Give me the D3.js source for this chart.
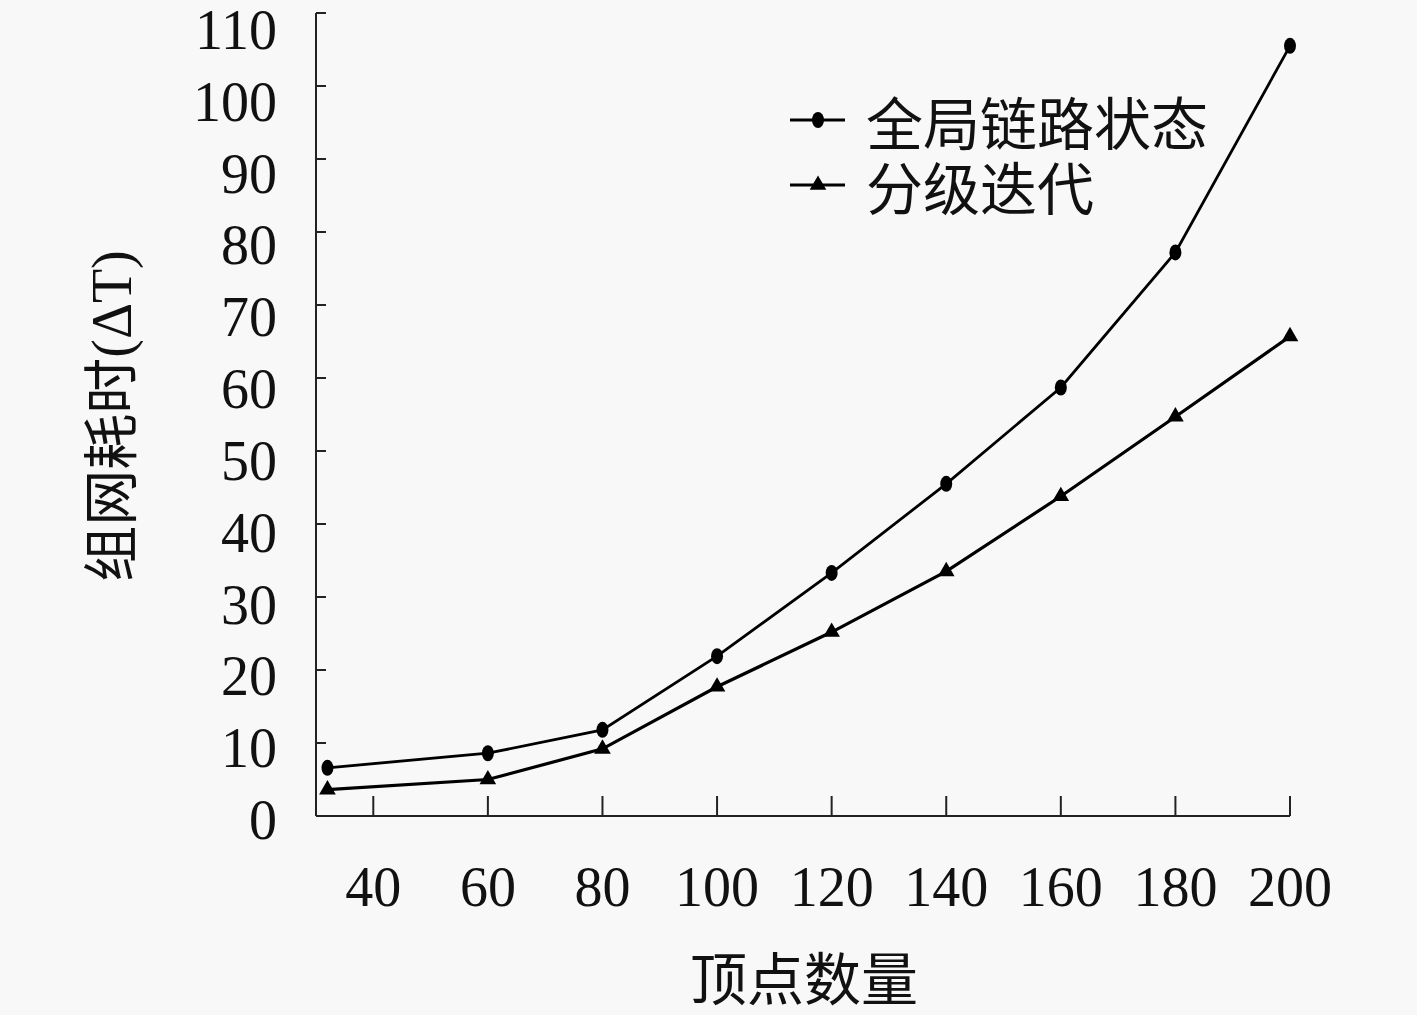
<!DOCTYPE html>
<html><head><meta charset="utf-8">
<script src="https://cdn.jsdelivr.net/npm/d3@7"></script>
<style>
html,body{margin:0;padding:0;background:#f8f8f8;}
svg{display:block;}
</style></head>
<body>
<script>
const xValues = [32, 60, 80, 100, 120, 140, 160, 180, 200];
const globalLinkState = [6.6, 8.6, 11.8, 21.9, 33.3, 45.5, 58.7, 77.2, 105.5];
const hierIter = [3.6, 5.0, 9.2, 17.7, 25.2, 33.5, 43.8, 54.7, 65.7];
const xTicks = [40, 60, 80, 100, 120, 140, 160, 180, 200];
const yTicks = [0, 10, 20, 30, 40, 50, 60, 70, 80, 90, 100, 110];
const seriesNames = ["全局链路状态", "分级迭代"];
const xTitle = "顶点数量";
const yTitle = "组网耗时";
const yUnit = "(ΔT)";

const W = 1417, H = 1015;
const numFont = "'Liberation Serif','DejaVu Serif',serif";
const cjkFont = "'Noto Sans CJK SC','Noto Sans CJK JP',sans-serif";

const svg = d3.select("body").append("svg").attr("width", W).attr("height", H);
svg.append("rect").attr("width", W).attr("height", H).attr("fill", "#f8f8f8");

const x = d3.scaleLinear().domain([30, 200]).range([316, 1290]);
const y = d3.scaleLinear().domain([0, 110]).range([816, 13]);
const yLab = d3.scaleLinear().domain([0, 110]).range([820, 30]);

const axisColor = "#222";
// y axis
svg.append("line").attr("x1", x(30)).attr("x2", x(30)).attr("y1", y(110)).attr("y2", y(0))
  .attr("stroke", axisColor).attr("stroke-width", 2);
svg.selectAll(".ytick").data(yTicks).enter().append("line")
  .attr("x1", x(30)).attr("x2", x(30) + 10).attr("y1", d => y(d)).attr("y2", d => y(d))
  .attr("stroke", axisColor).attr("stroke-width", 2);
svg.selectAll(".ylab").data(yTicks).enter().append("text")
  .attr("x", 277).attr("y", d => yLab(d)).attr("text-anchor", "end")
  .attr("dominant-baseline", "central")
  .attr("font-family", numFont).attr("font-size", 56).attr("fill", "#111")
  .text(d => d);
// x axis
svg.append("line").attr("x1", x(30)).attr("x2", x(200)).attr("y1", y(0)).attr("y2", y(0))
  .attr("stroke", axisColor).attr("stroke-width", 2);
svg.selectAll(".xtick").data(xTicks).enter().append("line")
  .attr("x1", d => x(d)).attr("x2", d => x(d)).attr("y1", y(0)).attr("y2", y(0) - 20)
  .attr("stroke", axisColor).attr("stroke-width", 2);
svg.selectAll(".xlab").data(xTicks).enter().append("text")
  .attr("x", d => x(d)).attr("y", 906).attr("text-anchor", "middle")
  .attr("font-family", numFont).attr("font-size", 56).attr("fill", "#111")
  .text(d => d);

// titles
svg.append("text").attr("x", 804).attr("y", 1000).attr("text-anchor", "middle")
  .attr("font-family", cjkFont).attr("font-size", 57).attr("fill", "#111").text(xTitle);
const yt = svg.append("text").attr("transform", "translate(131,416) rotate(-90)")
  .attr("text-anchor", "middle").attr("font-size", 56).attr("fill", "#111");
yt.append("tspan").attr("font-family", cjkFont).text(yTitle);
yt.append("tspan").attr("font-family", numFont).text(yUnit);

// lines
const line = d3.line().x(d => x(d[0])).y(d => y(d[1]));
const s1 = xValues.map((v, i) => [v, globalLinkState[i]]);
const s2 = xValues.map((v, i) => [v, hierIter[i]]);
svg.append("path").attr("d", line(s1)).attr("fill", "none").attr("stroke", "#000").attr("stroke-width", 2.8);
svg.append("path").attr("d", line(s2)).attr("fill", "none").attr("stroke", "#000").attr("stroke-width", 3.2);

const tri = d3.symbol().type(d3.symbolTriangle).size(120);
function drawCircle(g, cx, cy) {
  g.append("ellipse").attr("cx", cx).attr("cy", cy).attr("rx", 6).attr("ry", 8).attr("fill", "#000");
}
function drawTri(g, cx, cy) {
  g.append("path").attr("d", tri()).attr("transform", `translate(${cx},${cy})`).attr("fill", "#000");
}
s1.forEach(d => drawCircle(svg, x(d[0]), y(d[1])));
s2.forEach(d => drawTri(svg, x(d[0]), y(d[1])));

// legend
const legY = [120, 185];
[0, 1].forEach(i => {
  svg.append("line").attr("x1", 790).attr("x2", 845).attr("y1", legY[i]).attr("y2", legY[i])
    .attr("stroke", "#000").attr("stroke-width", 3);
  if (i === 0) drawCircle(svg, 818, legY[i]); else drawTri(svg, 818, legY[i]);
  svg.append("text").attr("x", 866).attr("y", legY[i]).attr("dominant-baseline", "central")
    .attr("font-family", cjkFont).attr("font-size", 57).attr("fill", "#111").text(seriesNames[i]);
});
</script>
</body></html>
